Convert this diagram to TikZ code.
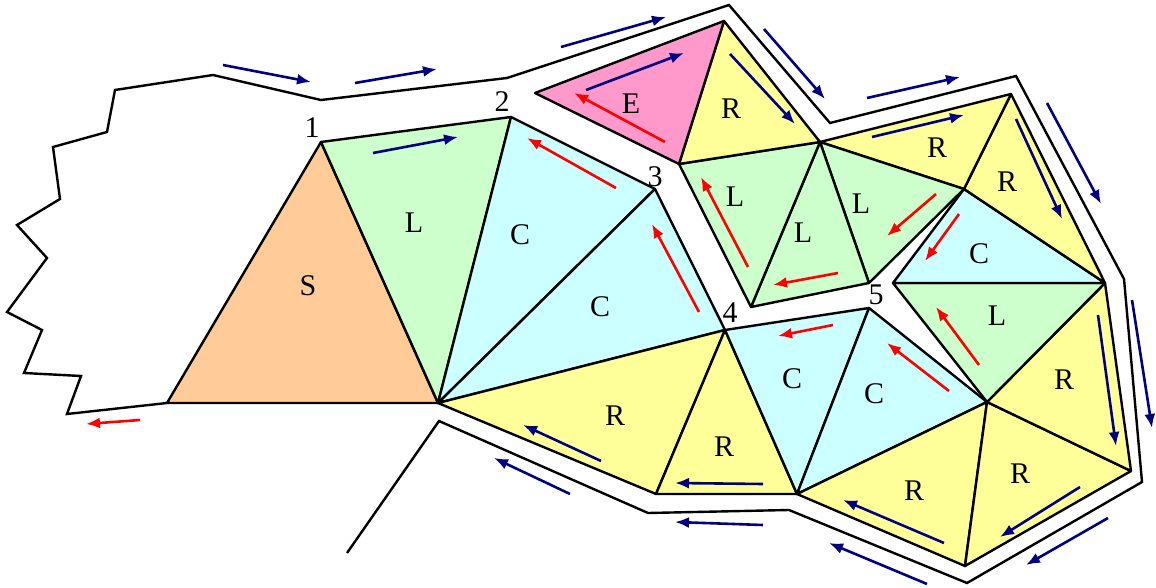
\documentclass[tikz,border=0pt]{standalone}
\usepackage{fontspec}
\setmainfont{Liberation Serif}
\usetikzlibrary{arrows.meta}

\begin{document}
\begin{tikzpicture}[x=1pt,y=-1pt,
    navyarrow/.style={draw=arrowBlue, line width=2.6pt, -{Latex[length=14pt,width=11pt]}},
    redarrow/.style={draw=arrowRed, line width=2.6pt, -{Latex[length=14pt,width=11pt]}},
    facelabel/.style={inner sep=0pt, font=\fontsize{30}{31}\selectfont}]

    \definecolor{borderColour}{HTML}{000000}
    \definecolor{sColour}{HTML}{FFCC99}
    \definecolor{lColour}{HTML}{CCFFCC}
    \definecolor{cColour}{HTML}{CCFFFF}
    \definecolor{rColour}{HTML}{FFFF99}
    \definecolor{eColour}{HTML}{FF99CC}
    \definecolor{arrowBlue}{HTML}{000080}
    \definecolor{arrowRed}{HTML}{FF0000}

    % Fix the page size
    \useasboundingbox (0,0) rectangle (1156,588);

    % Define coordinates for mesh vertices
    \coordinate (A) at (167,403);
    \coordinate (V1) at (321,142);
    \coordinate (V2) at (511,117);
    \coordinate (V3) at (655,189);
    \coordinate (V4) at (725,330);
    \coordinate (V5) at (869,308);
    \coordinate (P) at (438,403);
    \coordinate (E1) at (535,93);
    \coordinate (E2) at (724,21);
    \coordinate (E3) at (679,164);
    \coordinate (Q) at (820,142);
    \coordinate (M1) at (751,307);
    \coordinate (M2) at (869,283);
    \coordinate (T1) at (964,189);
    \coordinate (T2) at (1011,94);
    \coordinate (T3) at (1105,283);
    \coordinate (T4) at (893,283);
    \coordinate (T5) at (987,402);
    \coordinate (T6) at (1131,471);
    \coordinate (T7) at (965,566);
    \coordinate (B1) at (797,494);
    \coordinate (B2) at (656,494);

    % Draw triangles
    \foreach \p/\q/\r/\c in {A/V1/P/sColour, P/V1/V2/lColour, P/V2/V3/cColour,
        P/V3/V4/cColour, P/V4/B2/rColour, V4/B1/B2/rColour, V4/V5/B1/cColour,
        V5/T5/B1/cColour, B1/T5/T7/rColour, T5/T6/T7/rColour, T5/T3/T6/rColour,
        T4/T3/T5/lColour, T1/T3/T4/cColour, T2/T3/T1/rColour, Q/T2/T1/rColour,
        Q/T1/M2/lColour, Q/M2/M1/lColour, E3/Q/M1/lColour, E2/Q/E3/rColour,
        E1/E2/E3/eColour}
        \filldraw[fill=\c, draw=borderColour, line width=2.4pt, line join=round]
            (\p) -- (\q) -- (\r) -- cycle;

    % Draw outer boundary
    \draw[line width=2.4pt, borderColour] (A) -- (67,414) -- (81,376) -- (24,373)
        -- (42,330) -- (7,312) -- (47,258) -- (17,225) -- (60,199) -- (53,147)
        -- (107,132) -- (115,90) -- (213,75) -- (321,100) -- (507,78) -- (729,5)
        -- (830,123) -- (1016,76) -- (1124,279) -- (1142,482) -- (967,583)
        -- (789,510) -- (648,513) -- (439,421) -- (347,553);

    % Blue arrows
    \foreach \xa/\ya/\xb/\yb in {223/65/311/82, 355/83/437/69, 373/153/458/137,
        561/47/666/17, 586/90/684/53, 764/29/825/99, 730/54/795/124,
        867/98/960/77, 872/137/964/115, 1016/119/1062/219, 1047/103/1101/204,
        1098/315/1116/446, 1132/300/1152/428, 1080/487/1000/537,
        1108/518/1026/565, 944/543/843/500, 927/584/829/543, 763/484/675/483,
        763/525/675/522, 601/461/523/425, 570/494/494/458}
        \draw[navyarrow] (\xa,\ya) -- (\xb,\yb);

    % Red arrows
    \foreach \xa/\ya/\xb/\yb in {140/420/86/424, 616/188/527/138,
        699/312/652/224, 665/142/574/93, 748/267/701/177, 838/273/773/285,
        936/194/887/236, 959/214/925/261, 979/365/936/307, 949/391/887/343,
        833/325/778/336}
        \draw[redarrow] (\xa,\ya) -- (\xb,\yb);

    % Labels
    \foreach \x/\y/\t [count=\i] in {308/286/S, 414/223/L, 520/235/C, 600/307/C,
        615/416/R, 724/447/R, 792/379/C, 874/394/C, 631/104/E, 731/109/R,
        735/197/L, 803/233/L, 861/204/L, 937/148/R, 1007/182/R, 979/254/C,
        997/316/L, 1064/380/R, 1020/474/R, 914/491/R,
        312/128/1, 502/102/2, 655/177/3, 730/313/4, 876/295/5}
        \node[facelabel] (lab\i) at (\x,\y) {\t};

\end{tikzpicture}
\end{document}
